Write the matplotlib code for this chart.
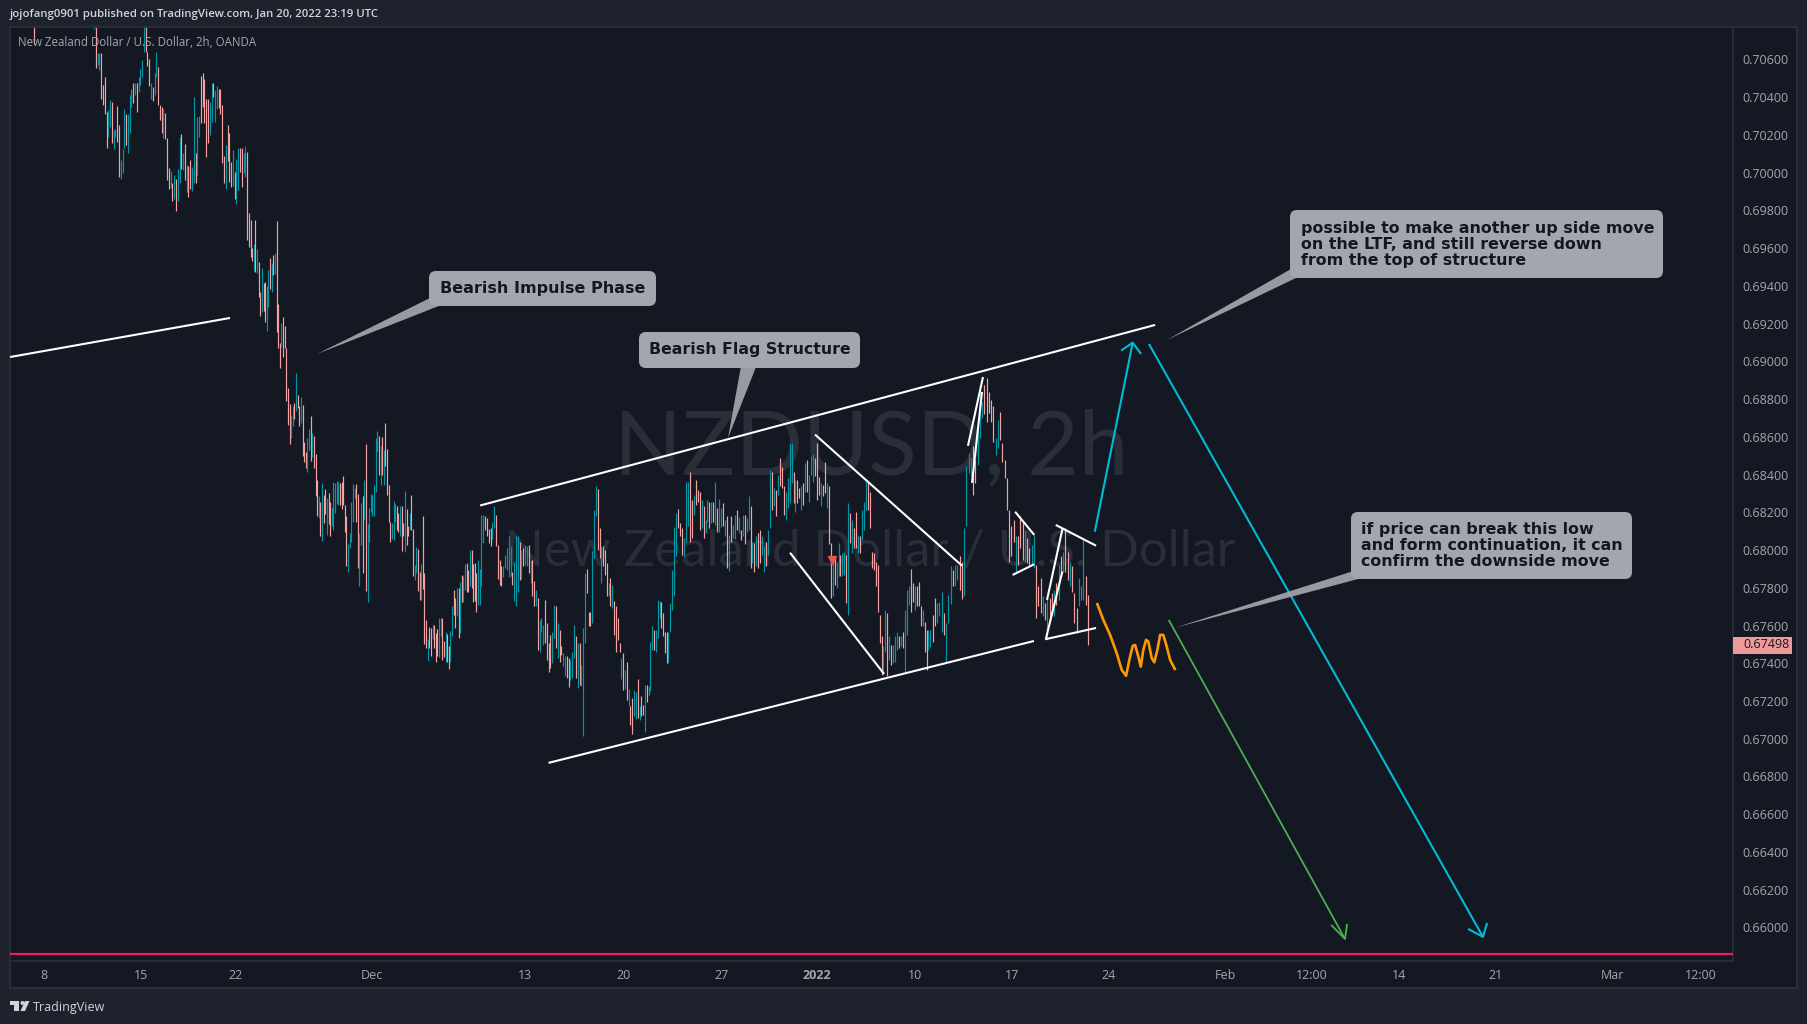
import numpy as np
import matplotlib
matplotlib.use('Agg')
import matplotlib.pyplot as plt
from matplotlib.patches import FancyBboxPatch, Polygon, Rectangle, Circle
from matplotlib.transforms import Affine2D, blended_transform_factory

D, U = 0, 1  # bar closed down / up

# bars: (high, low, direction), prices in 1e-5
nov_bars = [
 (70780,70764,U),(70780,70557,D),(70632,70570,U),(70632,70543,U),(70635,70393,D),(70464,70358,D),(70508,70310,D),
 (70322,70133,D),(70331,70190,U),(70384,70243,U),(70375,70158,D),(70225,70128,U),(70234,70190,U),(70353,70163,D),
 (70252,69978,D),(70066,69969,U),(70128,69996,U),(70337,70133,U),(70310,70146,D),(70310,70105,U),(70411,70211,U),
 (70446,70349,U),(70476,70370,D),(70473,70411,U),(70476,70322,D),(70508,70428,U),(70552,70464,U),(70596,70508,U),
 (70780,70640,U),(70780,70640,D),(70640,70565,D),(70605,70459,D),(70473,70393,U),(70455,70381,D),(70526,70411,U),
 (70640,70508,U),(70561,70358,D),(70358,70278,D),(70349,70211,D),(70340,70186,U),(70317,70181,D),(70185,69960,D),
 (70027,69916,D),(70010,69921,U),(69943,69851,D),(69987,69863,U),(69969,69798,D),(70017,69851,U),(70190,69943,U),
 (70204,70022,D),(70102,70013,U),(70151,69960,D),(70040,69898,U),(70035,69872,D),(70066,69916,D),(70031,69904,U),
 (70402,69946,U),(70105,69946,D),(70296,69987,U),(70300,70190,U),(70511,70261,D),(70526,70349,D),(70499,70264,D),
 (70393,70084,D),(70388,70158,D),(70375,70199,U),(70476,70270,U),(70476,70402,D),(70437,70270,U),(70459,70340,U),
 (70446,70345,D),(70446,70310,D),(70358,70049,D),(70088,69946,D),(70146,69916,U),(70252,70063,D),(70211,69951,D),
 (70057,69925,D),(70119,69928,U),(70004,69858,D),(70075,69833,U),(70133,69907,U),(70133,70004,D),(70133,69925,D),
 (70105,70000,U),(70140,69978,U),(70110,69642,D),(69784,69607,D),
]
late_nov_bars = [
 (69750,69552,D),(69600,69534,D),(69623,69481,U),(69750,69476,D),(69595,69467,U),(69529,69340,D),(69370,69243,D),
 (69494,69264,U),(69414,69269,D),(69423,69206,D),(69400,69163,U),(69485,69287,U),(69547,69384,D),(69520,69365,U),
 (69564,69458,D),(69573,69464,U),(69745,69158,D),(69305,69073,D),(69096,68964,D),(69202,69075,U),(69234,69022,D),
 (69185,69070,D),(69070,68792,D),(68858,68663,D),(68775,68561,D),(68716,68593,U),(68761,68655,U),(68778,68695,D),
 (68937,68739,U),(68822,68752,D),(68764,68660,D),(68810,68672,U),(68769,68501,D),(68572,68469,D),(68522,68437,D),
 (68593,68413,U),(68640,68531,U),(68711,68474,D),(68619,68492,U),(68605,68437,D),(68510,68289,D),(68372,68178,D),
 (68284,68169,U),(68254,68072,D),(68354,68050,U),(68292,68142,D),(68322,68192,D),(68275,68080,U),(68301,68139,D),
 (68254,68075,D),(68227,68128,U),(68363,68107,U),(68354,68195,U),(68367,68245,U),(68363,68239,U),(68354,68239,D),
 (68358,68216,D),(68393,68239,D),(68239,68093,D),(68181,67916,D),(68033,67881,U),(68089,68010,U),(68257,68045,U),
 (68349,68146,U),(68331,68275,U),(68349,68151,D),(68298,67907,D),(68089,67812,U),(68248,68027,U),(68287,67877,D),
 (68372,68160,U),(68563,67785,D),(68139,67727,U),(68222,68040,U),(68298,68199,U),(68292,68183,U),(68345,68183,U),
 (68593,68310,U),(68633,68517,U),(68605,68398,D),(68549,68345,U),(68598,68398,D),(68531,68345,U),(68672,68446,D),
 (68535,68292,D),(68345,68151,D),(68151,68040,D),(68142,68058,U),(68261,68054,U),(68245,68151,U),(68234,68107,D),
 (68195,68093,D),(68231,68072,U),(68234,67997,D),(68142,68075,D),(68315,67990,U),(68216,68027,D),(68125,68075,D),
 (68195,68107,U),(68292,68107,D),(68110,67863,D),(67921,67842,U),(68015,67877,U),(68004,67785,D),(67881,67736,D),
 (67927,67736,U),(68181,67792,D),(67877,67503,D),(67630,67480,D),(67528,67414,U),(67591,67480,D),(67586,67441,D),
 (67603,67528,U),(67603,67480,D),(67559,67409,D),(67580,67436,D),(67639,67432,U),(67642,67542,U),(67639,67418,D),
 (67520,67432,D),(67568,67409,U),(67556,67404,D),(67489,67369,D),(67573,67409,U),(67704,67542,U),(67789,67656,D),
 (67748,67586,D),(67798,67651,U),(67798,67533,D),(67830,67559,U),(67868,67727,D),(67863,67727,U),(67927,67789,U),
 (67930,67780,D),(67895,67775,D),(68001,67807,U),(68001,67798,D),(67927,67727,D),(67930,67731,D),(67877,67669,D),
 (67948,67709,U),
]
dec_bars = [
 (67899,67709,U),(68186,67807,U),(68186,68036,U),(68181,68107,D),(68169,68075,D),(68110,68036,D),(68116,68019,D),
 (68151,68058,U),(68234,68116,U),(68186,68019,D),(68027,67846,D),(67948,67815,D),(67916,67810,D),(67916,67856,U),
 (67974,67904,U),(68010,67895,U),(68072,67856,U),(68019,67860,U),(67886,67815,D),(67939,67732,U),(68075,67701,U),
 (68075,67780,U),(68040,67842,D),(68001,67846,U),(68010,67916,D),(68027,67921,U),(68019,67913,U),(68027,67877,D),
 (67948,67824,U),(67948,67754,D),(67837,67704,D),(67789,67701,U),(67745,67471,D),(67630,67462,U),(67639,67568,U),
 (67603,67497,U),(67736,67506,D),(67612,67418,D),(67506,67356,D),(67550,67374,D),(67568,67400,U),(67709,67533,U),
 (67704,67480,D),(67612,67430,U),(67577,67409,D),(67489,67444,D),(67453,67383,U),(67436,67330,U),(67436,67321,D),
 (67427,67273,D),(67418,67312,U),(67462,67321,U),(67603,67427,U),(67545,67321,D),(67506,67268,U),(67506,67285,D),
 (67391,67277,U),(67586,67015,U),(67877,67506,U),(67899,67771,D),(67674,67595,D),(67674,67598,D),(67997,67612,U),
 (68213,67957,U),(68340,68178,U),(68323,68001,D),(68116,67957,D),(68019,67824,U),(68019,67913,D),(68001,67868,D),
 (67930,67754,D),(67824,67757,U),(67851,67704,D),(67815,67692,U),(67732,67550,D),(67701,67457,D),(67639,67524,D),
 (67506,67462,D),(67427,67316,U),(67453,67259,D),(67365,67263,U),(67409,67206,D),(67263,67171,U),(67171,67073,D),
 (67215,67026,D),(67259,67118,U),(67250,67104,U),(67315,67109,D),(67174,67100,U),(67224,67118,D),(67179,67126,D),
 (67285,67038,U),(67285,67197,D),(67280,67232,U),(67515,67255,U),(67598,67471,U),(67577,67471,D),(67577,67457,U),
 (67736,67533,U),(67732,67639,U),(67727,67586,D),(67665,67542,D),(67563,67453,D),(67568,67400,D),
]
jan_bars = [
 (67563,67400,U),(67718,67563,U),(67895,67683,U),(68121,67754,U),(68195,67966,U),(68217,68116,D),(68142,68072,D),
 (68116,67974,D),(68063,67962,U),(68363,68045,U),(68363,68125,U),(68416,68045,D),(68266,68063,D),(68292,68186,U),
 (68372,68239,D),(68319,68257,D),(68310,68107,D),(68266,68116,U),(68231,68063,D),(68160,68089,U),(68266,68151,U),
 (68252,68116,D),(68257,68142,U),(68257,68146,D),(68363,68133,U),(68222,68098,D),(68270,68093,U),(68222,68121,U),
 (68248,68125,D),(68160,68072,U),(68181,67904,D),(68080,67891,U),(68181,68045,D),(68133,68063,U),(68186,68058,U),
 (68213,68107,D),(68174,68089,U),(68107,68054,D),(68186,68072,U),(68186,68033,D),(68169,68093,U),(68287,68107,U),
 (68231,67904,D),(68045,67930,U),(68036,67886,D),(68072,67916,U),(68089,67904,D),(68107,67930,D),(68072,67974,U),
 (68019,67886,U),(68040,67913,D),(68107,67974,U),(68425,68116,U),(68416,68213,D),(68328,68231,U),(68319,68178,D),
 (68398,68292,U),(68487,68337,D),(68439,68328,D),(68337,68186,D),(68310,68160,U),(68381,68222,U),(68566,68248,U),
 (68566,68354,U),(68416,68248,D),(68372,68204,U),(68372,68248,D),(68328,68275,D),(68337,68213,U),(68354,68239,D),
 (68460,68310,U),(68478,68310,D),(68398,68257,U),(68499,68398,U),(68510,68363,U),(68487,68390,D),(68566,68266,D),
 (68386,68292,D),(68354,68231,U),(68345,68284,D),(68464,68301,D),(68354,68222,U),(68337,68033,D),(68036,67745,D),
 (67939,67754,U),(67966,67815,D),(67930,67798,U),(68036,67860,U),(67974,67860,D),(67983,67860,U),(67992,67868,U),
 (67974,67718,D),(68248,67656,U),(68195,68036,D),(68160,67983,U),(68116,68010,D),(68204,68010,D),(68080,67983,U),
 (68072,67983,D),(68213,68054,U),(68252,68107,U),(68372,68213,U),(68363,68213,D),(68310,68116,D),(67992,67904,D),
 (67983,67895,D),(67939,67807,D),(67921,67669,D),(67656,67506,D),(67542,67338,D),(67489,67347,U),(67683,67462,U),
 (67665,67333,D),(67542,67418,U),(67497,67391,D),(67497,67400,U),(67542,67409,U),(67568,67471,U),(67542,67480,D),
 (67542,67489,U),(67568,67480,D),(67683,67356,U),(67789,67550,U),(67810,67709,U),(67899,67674,D),(67824,67727,D),
 (67807,67683,U),(67810,67701,D),(67833,67701,D),(67701,67595,D),(67683,67595,U),(67621,67462,D),(67577,67365,D),
]
late_jan_bars = [
 (67577,67471,U),(67577,67485,U),(67656,67510,D),(67745,67595,D),(67718,67612,U),(67727,67648,U),(67780,67568,U),
 (67665,67550,D),(67612,67409,U),(67762,67612,U),(67913,67715,U),(67895,67807,D),(67921,67807,U),(67921,67842,U),
 (67966,67789,D),(67939,67740,D),(68116,67754,U),(68443,68125,U),(68513,68407,U),(68487,68390,U),(68549,68292,D),
 (68478,68354,D),(68646,68451,U),(68849,68593,U),(68787,68699,U),(68875,68722,D),(68911,68681,D),(68840,68725,D),
 (68796,68681,D),(68761,68575,D),(68593,68504,U),(68690,68540,U),(68734,68584,D),(68566,68469,D),(68478,68381,D),
 (68381,68213,D),(68213,67939,D),(68125,67966,D),(68160,68045,D),(68072,67877,U),(68072,67921,D),(68178,68010,D),
 (68151,67948,D),(68107,67939,U),(68063,67930,D),(68010,67921,D),(68027,67927,U),(68080,67904,U),(67921,67639,D),
 (67807,67701,D),(67851,67665,D),(67754,67648,U),(67718,67630,D),(67745,67533,U),(67745,67630,D),(67771,67656,D),
 (67789,67648,U),(67824,67709,D),(67921,67736,U),(67966,67860,D),(67992,67886,U),(68116,67886,D),(67992,67842,D),
 (67939,67807,U),(67916,67780,D),(67771,67612,D),(67692,67559,D),(67851,67701,U),(67807,67736,U),(68058,67736,U),
 (67860,67709,D),(67763,67497,D),
]
# first and last bar number of each block above
block_bars = [(31, 127), (128, 269), (270, 386), (387, 547), (548, 647)]

price_ticks = [0.660, 0.662, 0.664, 0.666, 0.668, 0.670, 0.672, 0.674, 0.676, 0.678, 0.680, 0.682, 0.684,
               0.686, 0.688, 0.690, 0.692, 0.694, 0.696, 0.698, 0.700, 0.702, 0.704, 0.706]
time_ticks = [0, 60, 119, 203, 298, 359, 420, 479, 540, 600, 660, 732, 786, 840, 900, 972, 1027]
time_labels = ['8', '15', '22', 'Dec', '13', '20', '27', '2022', '10', '17', '24', 'Feb', '12:00', '14', '21', 'Mar', '12:00']
last_price = 0.67498
floor_price = 0.65860

# drawings as (bar, price)
white_lines = [
 [(-21, 0.69023), (115.3, 0.69230)],
 [(270.3, 0.68236), (688.7, 0.69193)],
 [(312.7, 0.66872), (613.6, 0.67518)],
 [(477.9, 0.68612), (569, 0.67917)],
 [(462.4, 0.67986), (520.7, 0.67343)],
 [(572.7, 0.68552), (582, 0.68917)],
 [(575.2, 0.68356), (581.4, 0.68838)],
 [(601.9, 0.68203), (613.8, 0.68080)],
 [(600.4, 0.67868), (613.8, 0.67925)],
 [(621.7, 0.67736), (631.2, 0.68110)],
 [(621.1, 0.67533), (631.2, 0.67886)],
 [(627.1, 0.68133), (652.1, 0.68023)],
 [(620.5, 0.67527), (652.1, 0.67587)],
]
cyan_up = [(651.3, 0.68097), (674.8, 0.69099)]
cyan_up_head = [(667.6, 0.69057), (674.8, 0.69099), (680, 0.69039)]
cyan_down = [(684.9, 0.69092), (891.9, 0.65950)]
cyan_down_head = [(882.7, 0.65992), (891.9, 0.65950), (894.5, 0.66024)]
green_down = [(697.1, 0.67630), (806.4, 0.65939)]
green_down_head = [(797.8, 0.66013), (806.4, 0.65939), (807.7, 0.66019)]
orange_bar = [652.9, 656.6, 660.8, 664.9, 668, 670.7, 672.7, 674.8, 676.3, 678.3, 679.8, 681.4, 683.1, 684.5,
              686.6, 688.2, 690.1, 691.8, 693.8, 695.9, 698, 700.9]
orange_price = [0.67713, 0.67630, 0.67550, 0.67453, 0.67365, 0.67333, 0.67418, 0.67492, 0.67497, 0.67435, 0.67382,
                0.67471, 0.67524, 0.67515, 0.67427, 0.67405, 0.67471, 0.67550, 0.67550, 0.67488, 0.67418, 0.67370]

W, H = 1807, 1024
BG = '#1e222d'
PANE = '#141823'
BORDER = '#2a2e39'
PINK = '#f7a1a1'
TEAL = '#0097a7'
GREY = '#a3a6af'
INK = '#131722'
UI_FONT = 'Open Sans'

fig = plt.figure(figsize=(W / 100, H / 100), dpi=100, facecolor=BG)
px = Affine2D().scale(1 / W, -1 / H).translate(0, 1) + fig.transFigure

# pane behind chart, price scale and time scale
fig.add_artist(Rectangle((10, 27), 1787, 961, transform=px, fc=PANE, ec=BORDER, lw=1.5, zorder=-1))

ax = fig.add_axes([10 / W, 1 - 961 / H, 1723 / W, 934 / H], facecolor=PANE)
ax.set_xlim(-21.1, 1046.9)
ax.set_ylim(0.65822, 0.70772)
for s in ax.spines.values():
    s.set_color(BORDER)
    s.set_linewidth(1.2)
ax.yaxis.tick_right()
ax.set_yticks(price_ticks, ['%.5f' % p for p in price_ticks], fontsize=9, color=GREY, family=UI_FONT)
ax.set_xticks(time_ticks, time_labels, fontsize=9, color=GREY, family=UI_FONT)
ax.tick_params(axis='both', length=0)
ax.tick_params(axis='y', pad=7)
ax.tick_params(axis='x', pad=5.5)
for lab, txt in zip(ax.get_xticklabels(), time_labels):
    if txt == '2022':
        lab.set_fontweight('bold')

# watermark
ax.text(871, 450, 'NZDUSD, 2h', transform=px, ha='center', va='center', fontsize=64, color='#2a2e39',
        family='Lato', zorder=0)
ax.text(870, 551, 'New Zealand Dollar / U.S. Dollar', transform=px, ha='center', va='center', fontsize=36.6,
        color='#2a2e39', family='Lato', zorder=0)

# price bars
blocks = [nov_bars, late_nov_bars, dec_bars, jan_bars, late_jan_bars]
for rows, (first, last) in zip(blocks, block_bars):
    rows = np.array(rows)
    xs = np.linspace(first, last, len(rows))
    colors = [TEAL if r == U else PINK for r in rows[:, 2]]
    lc = ax.vlines(xs, rows[:, 1] / 1e5, rows[:, 0] / 1e5, colors=colors, linewidth=0.85, zorder=2)
    lc.set_snap(True)
ax.vlines([-6], [0.70680], [0.70780], colors=PINK, linewidth=0.85, zorder=2)
ax.plot([488.4], [0.67948], marker='v', ms=6, color='#ef5350', zorder=3, ls='none')

# drawings
ax.axhline(floor_price, color='#e91e63', lw=1.6, zorder=3)
for line in white_lines:
    xs, ys = zip(*line)
    ax.plot(xs, ys, color='white', lw=1.5, zorder=4, solid_capstyle='butt')
for path, col, lw in [(cyan_up, '#00bcd4', 1.5), (cyan_up_head, '#00bcd4', 1.5),
                      (cyan_down, '#00bcd4', 1.5), (cyan_down_head, '#00bcd4', 1.5),
                      (green_down, '#4caf50', 1.3), (green_down_head, '#4caf50', 1.3)]:
    xs, ys = zip(*path)
    ax.plot(xs, ys, color=col, lw=lw, zorder=4, solid_capstyle='butt')
ax.plot(orange_bar, orange_price, color='#ff9800', lw=1.9, zorder=4, solid_joinstyle='round')


# callouts: box, pointer and text, placed as on the screen
def callout(box, pointer, lines, x, y, fs, step=16):
    bx, by, bw, bh = box
    ax.add_patch(FancyBboxPatch((bx + 7, by + 7), bw - 14, bh - 14, boxstyle='round,pad=7,rounding_size=7',
                                transform=px, fc=GREY, ec='none', zorder=6, clip_on=False, mutation_aspect=1))
    ax.add_patch(Polygon(pointer, transform=px, fc=GREY, ec='none', zorder=6, alpha=0.92, clip_on=False))
    for i, line in enumerate(lines):
        ax.text(x, y + i * step, line, transform=px, fontsize=fs, color=INK, fontweight='bold',
                family='DejaVu Sans', zorder=7, va='baseline')


callout((429, 271, 227, 35), [(430, 298), (440, 305.5), (317, 354)], ['Bearish Impulse Phase'], 440, 293, 11.5)
callout((639, 332, 221, 36), [(741, 366), (756.4, 366), (728, 438)], ['Bearish Flag Structure'], 649, 354, 11.3)
callout((1290, 210, 373, 68), [(1291, 269), (1298, 277), (1167, 340)],
        ['possible to make another up side move', 'on the LTF, and still reverse down', 'from the top of structure'],
        1301, 233, 11.4)
callout((1351, 512, 281, 67), [(1352, 571.5), (1360, 578.5), (1175, 627.7)],
        ['if price can break this low', 'and form continuation, it can', 'confirm the downside move'],
        1361, 534, 11.4)

# last price tag on the price scale
fig.add_artist(Rectangle((1733, 637), 59, 17, transform=px, fc='#ef9a9a', ec='none', zorder=5))
fig.text(1743, 0, '%.5f' % last_price,
         transform=blended_transform_factory(px, ax.transData), fontsize=9, color=INK, va='center',
         family=UI_FONT, zorder=6).set_y(last_price)

# header and footer
fig.text(10, 15, 'jojofang0901 published on TradingView.com, Jan 20, 2022 23:19 UTC', transform=px, fontsize=8.2,
         color='#d1d4dc', va='center', family=UI_FONT, fontweight='semibold')
ax.text(18, 42, 'New Zealand Dollar / U.S. Dollar, 2h, OANDA', transform=px, fontsize=8.3, color='#a3a6af', va='center',
        family=UI_FONT, zorder=5)
fig.text(33, 1007, 'TradingView', transform=px, fontsize=9, color='#d1d4dc', va='center', family=UI_FONT)

# TradingView mark
logo = '#d1d4dc'
fig.add_artist(Polygon([(10, 1001), (19.5, 1001), (19.5, 1011), (14.5, 1011), (14.5, 1005), (10, 1005)], transform=px, fc=logo, ec='none'))
fig.add_artist(Circle((22.5, 1003), 2, transform=px, fc=logo, ec='none'))
fig.add_artist(Polygon([(25, 1001), (29.5, 1001), (25, 1011), (20.5, 1011)], transform=px, fc=logo, ec='none'))

plt.savefig('out.png', dpi=100, facecolor=fig.get_facecolor())
